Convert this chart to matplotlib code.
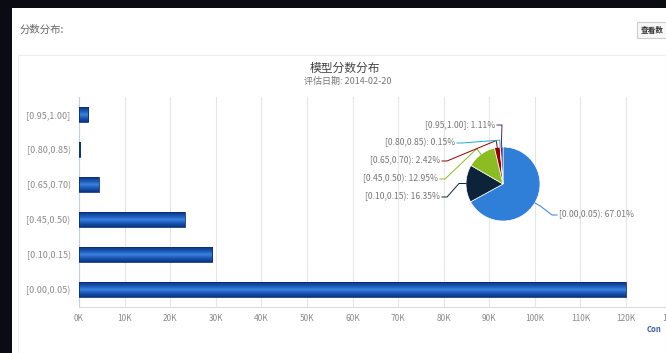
import numpy as np
import matplotlib
matplotlib.use('Agg')
import matplotlib.pyplot as plt
from matplotlib.patches import Rectangle
from matplotlib.lines import Line2D
from matplotlib.colors import LinearSegmentedColormap

plt.rcParams['font.family'] = ['Noto Sans CJK SC', 'DejaVu Sans']

# data
categories = ['[0.00,0.05)', '[0.10,0.15)', '[0.45,0.50)', '[0.65,0.70)', '[0.80,0.85)', '[0.95,1.00]']
counts = [119990, 29280, 23190, 4335, 270, 1990]
pie_colors = ['#2f7ed8', '#0d233a', '#8bbc21', '#910000', '#1aadce', '#492970']
xticks = list(range(0, 130001, 10000))
xtick_labels = ['%dK' % (v // 1000) for v in xticks]

W, H = 666, 353
fig = plt.figure(figsize=(W / 100, H / 100), dpi=100)
fig.patch.set_facecolor('#0b0b13')

def px(x, y):
    # figure pixel (top-left origin) -> figure fraction
    return x / W, 1 - y / H

# white page panel
fig.patches.append(Rectangle(px(12, 353), (W - 12) / W, (353 - 8) / H,
                             transform=fig.transFigure, facecolor='white', edgecolor='none', zorder=-10))
fig.patches.append(Rectangle(px(18, 353), (W - 18) / W, (353 - 55) / H,
                             transform=fig.transFigure, facecolor='none', edgecolor='#eeeeee', lw=0.8, zorder=-9))

fig.text(*px(20, 30), '分数分布:', fontsize=7.5, color='#666666', va='center', ha='left')
fig.patches.append(Rectangle(px(637, 38), 40 / W, 16 / H, transform=fig.transFigure,
                             facecolor='#f7f7f7', edgecolor='#cccccc', lw=0.8, zorder=-8))
fig.text(*px(641, 30), '查看数', fontsize=5.5, color='#333333', va='center', ha='left', fontweight='bold')

fig.text(*px(345, 68), '模型分数分布', fontsize=8.5, color='#444444', ha='center', va='center')
fig.text(*px(348, 81), '评估日期: 2014-02-20', fontsize=6.5, color='#777777', ha='center', va='center')
fig.text(*px(647, 330), 'Con', fontsize=5.5, color='#3d5ca8', ha='left', va='center', fontweight='bold')

# ---- horizontal bar chart
ax = fig.add_axes([79 / W, (H - 307) / H, (671.6 - 79) / W, 210 / H])
ax.set_facecolor('none')
ypos = np.arange(len(categories))
bar_h = 0.42
grad = np.abs(np.linspace(-1, 1, 64))[:, None]
cmap = LinearSegmentedColormap.from_list('bar', ['#3a80dc', '#1854b4', '#0a3482'])
for y, v in zip(ypos, counts):
    ax.imshow(grad, cmap=cmap, aspect='auto', extent=[0, v, y - bar_h / 2, y + bar_h / 2],
              interpolation='bilinear', zorder=3)
    ax.add_patch(Rectangle((0, y - bar_h / 2), v, bar_h, facecolor='none', edgecolor='#0b2f6e', lw=0.6, zorder=4))
ax.set_xlim(0, 130000)
ax.set_ylim(-0.5, len(categories) - 0.5)
ax.set_xticks(xticks)
ax.set_xticklabels(xtick_labels)
ax.set_yticks(ypos)
ax.set_yticklabels(categories)
ax.tick_params(axis='x', labelsize=6, colors='#8a8a8a', length=0, pad=5)
ax.tick_params(axis='y', labelsize=6.5, colors='#8a8a8a', length=0, pad=6)
ax.grid(axis='x', color='#e6e6e6', lw=0.8, zorder=0)
for s in ['top', 'right']:
    ax.spines[s].set_visible(False)
ax.spines['bottom'].set_color('#dddddd')
ax.spines['left'].set_color('#c0d0e0')
ax.set_axisbelow(True)

# ---- pie
cx, cy, r = 503, 184, 37
pax = fig.add_axes([(cx - r) / W, (H - cy - r) / H, 2 * r / W, 2 * r / H])
pax.set_aspect('equal')
pax.axis('off')
total = sum(counts)
wedges, _ = pax.pie(counts, colors=pie_colors, startangle=90, counterclock=False, radius=1,
                    wedgeprops=dict(edgecolor='white', linewidth=0.5))
pax.set_xlim(-1, 1)
pax.set_ylim(-1, 1)

# label anchor points in figure pixels (layout)
label_pos = [(557, 215), (442, 197), (440, 179), (442, 161), (457, 143), (497, 125)]
for w, cat, v, c, (lx, ly) in zip(wedges, categories, counts, pie_colors, label_pos):
    ang = np.deg2rad((w.theta1 + w.theta2) / 2)
    right = lx > cx
    ex, ey = cx + r * np.cos(ang), cy - r * np.sin(ang)
    ox, oy = cx + (r + 7) * np.cos(ang), cy - (r + 7) * np.sin(ang)
    kx = lx - 5 if right else lx + 5
    xs = [ex, ox, kx, lx]
    ys = [ey, oy, ly, ly]
    fig.add_artist(Line2D([x / W for x in xs], [1 - y / H for y in ys], transform=fig.transFigure,
                          color=c, lw=0.7))
    txt = '%s: %.2f%%' % (cat, 100 * v / total)
    fig.text(*px(lx + (2 if right else -2), ly), txt, fontsize=6.2, color='#777777', va='center',
             ha='left' if right else 'right')

fig.savefig('out.png', dpi=100, facecolor=fig.get_facecolor())
